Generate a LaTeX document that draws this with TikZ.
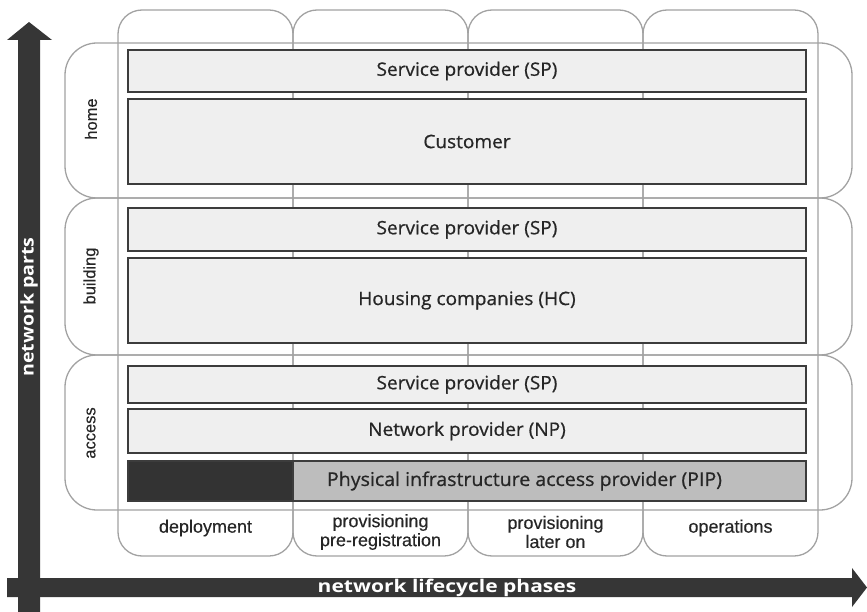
\documentclass[tikz,border=0pt]{standalone}
\usepackage{fontspec}
\setmainfont{Open Sans}
\newfontfamily\barfont{Open Sans}[FakeBold=0.7, FakeStretch=1.03]
\newfontfamily\phasefont{Liberation Sans}[FakeBold=0.3]
\newfontfamily\axisfont{Open Sans}[FakeStretch=1.2]
\newfontfamily\partsfont{Open Sans}[FakeStretch=1.12]
\definecolor{framegray}{HTML}{A2A2A2}
\definecolor{bardark}{HTML}{3C3C3C}
\definecolor{barfill}{HTML}{EFEFEF}
\definecolor{pipgray}{HTML}{BDBDBD}
\definecolor{pipdark}{HTML}{333333}
\definecolor{axisdark}{HTML}{363636}
\definecolor{textdark}{HTML}{262626}
\begin{document}
\begin{tikzpicture}[x=1pt,y=-1pt,
  colframe/.style={draw=framegray, line width=1.3pt, rounded corners=24pt,
    inner sep=0pt, minimum width=175pt, minimum height=546pt},
  rowframe/.style={draw=framegray, line width=1.3pt, rounded corners=32pt,
    inner sep=0pt, minimum width=787pt},
  bar/.style={draw=bardark, line width=2.6pt, fill=barfill, inner sep=0pt,
    minimum width=678pt, text=textdark, font=\barfont\fontsize{18.5}{22}\selectfont},
  phaselabel/.style={align=center, text=textdark, inner sep=0pt,
    font=\phasefont\fontsize{18}{19}\selectfont},
  partlabel/.style={rotate=90, text=textdark, inner sep=0pt,
    font=\phasefont\fontsize{16.5}{18}\selectfont},
  axislabel/.style={text=white, inner sep=0pt}]
\useasboundingbox (0,0) rectangle (867,612);

% lifecycle phase columns
\node[colframe] (colA) at (205.5,283) {};
\node[colframe] (colB) at (380.5,283) {};
\node[colframe] (colC) at (555.5,283) {};
\node[colframe] (colD) at (730.5,283) {};

% network part rows
\node[rowframe, minimum height=155pt] (rowhome) at (458.5,120.5) {};
\node[rowframe, minimum height=157pt] (rowbuilding) at (458.5,276.5) {};
\node[rowframe, minimum height=155pt] (rowaccess) at (458.5,432.5) {};

% actor bars: home
\node[bar, minimum height=42pt] (homesp) at (467,71) {Service provider (SP)};
\node[bar, minimum height=85pt] (customer) at (467,141.5) {Customer};
% actor bars: building
\node[bar, minimum height=43pt] (bldsp) at (467,229.5) {Service provider (SP)};
\node[bar, minimum height=85pt] (hc) at (467,300.5) {Housing companies (HC)};
% actor bars: access
\node[bar, minimum height=37pt] (accsp) at (467,384.5) {Service provider (SP)};
\node[bar, minimum height=44pt] (np) at (467,431) {Network provider (NP)};
\node[bar, fill=pipdark, minimum width=165pt, minimum height=40pt] (pipdeploy) at (210.5,481) {};
\node[bar, fill=pipgray, minimum width=513pt, minimum height=40pt] (pip) at (549.5,481) {};
\node[text=textdark, inner sep=0pt, font=\barfont\fontsize{19}{22}\selectfont] (piplabel) at (524.5,481)
  {Physical infrastructure access provider (PIP)};

% phase labels
\node[phaselabel] (lblA) at (205.5,528) {deployment};
\node[phaselabel] (lblB) at (380.5,532) {provisioning\\pre-registration};
\node[phaselabel] (lblC) at (555.5,532) {provisioning\\later on};
\node[phaselabel] (lblD) at (730.5,528) {operations};

% part labels
\node[partlabel] (lblhome) at (91,119) {home};
\node[partlabel] (lblbuilding) at (91,276) {building};
\node[partlabel] (lblaccess) at (91,433) {access};

% axes
\fill[axisdark] (18,612) -- (18,40) -- (7,40) -- (29,22) -- (52,40) -- (40,40) -- (40,612) -- cycle;
\fill[axisdark] (7,578) -- (852,578) -- (852,568) -- (867,587.5) -- (852,607) -- (852,597) -- (7,597) -- cycle;
\node[axislabel, rotate=90, font=\partsfont\bfseries\fontsize{17.5}{19}\selectfont] (axisparts) at (29,307) {network parts};
\node[axislabel, font=\axisfont\bfseries\fontsize{17.5}{19}\selectfont] (axisphases) at (447,588) {network lifecycle phases};
\end{tikzpicture}
\end{document}
